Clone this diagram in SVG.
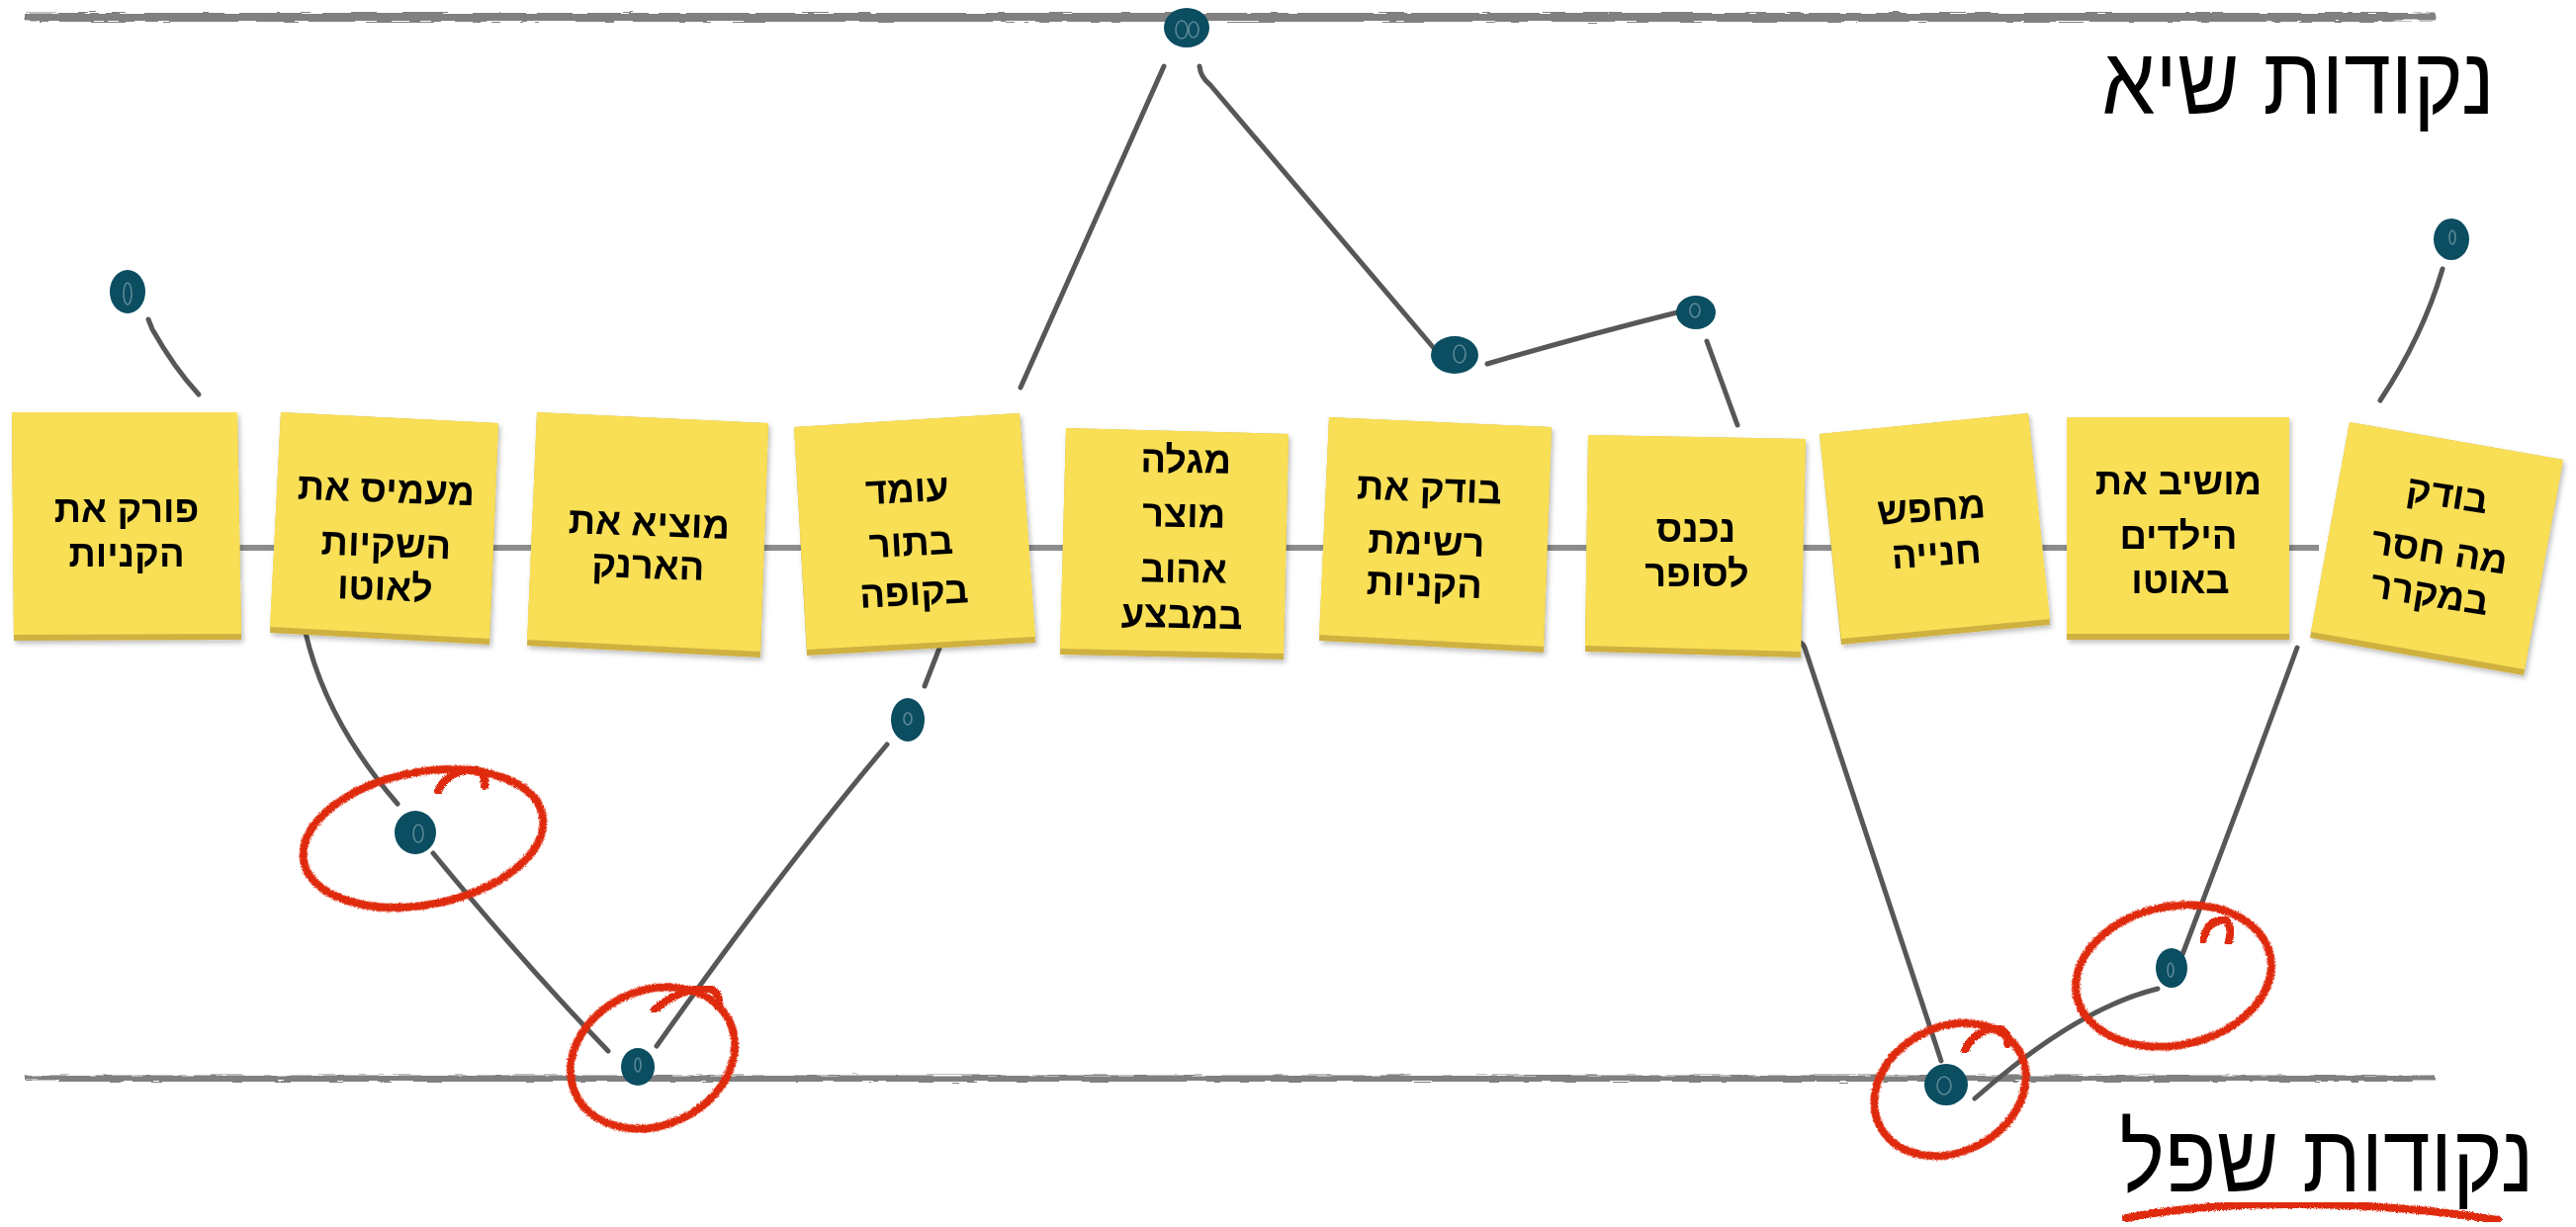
<svg xmlns="http://www.w3.org/2000/svg" width="2605" height="1241" viewBox="0 0 2605 1241">
<style>
.note{fill:#f8df57;}
.noteb{fill:#cfb141;}
.nt{font-family:"Liberation Sans","DejaVu Sans",sans-serif;font-weight:bold;font-size:38px;fill:#000;text-anchor:middle;}
.title{font-family:"Liberation Sans","DejaVu Sans",sans-serif;font-weight:normal;font-size:86px;fill:#000;text-anchor:middle;}
.con{fill:none;stroke:#575757;stroke-width:5;stroke-linecap:round;stroke-linejoin:round;}
.dot{fill:#0b4d61;}
.dotl{fill:none;stroke:#6f97a3;stroke-width:1.6;opacity:.8;}
.red{fill:none;stroke:#df2b0f;stroke-width:8;stroke-linecap:round;filter:url(#rough);}
.hl{fill:none;stroke:#808080;stroke-linecap:butt;}
</style>
<defs>
<filter id="rough" x="-10%" y="-10%" width="120%" height="120%">
<feTurbulence type="fractalNoise" baseFrequency="0.9" numOctaves="2" seed="3" result="n"/>
<feDisplacementMap in="SourceGraphic" in2="n" scale="4" xChannelSelector="R" yChannelSelector="G"/>
</filter>
<filter id="rough2" filterUnits="userSpaceOnUse" x="0" y="0" width="2605" height="1241">
<feTurbulence type="fractalNoise" baseFrequency="0.04 0.8" numOctaves="2" seed="7" result="n"/>
<feDisplacementMap in="SourceGraphic" in2="n" scale="5" xChannelSelector="R" yChannelSelector="G"/>
</filter>
<filter id="shadow" x="-5%" y="-5%" width="115%" height="115%">
<feDropShadow dx="2" dy="3" stdDeviation="2.5" flood-color="#000" flood-opacity="0.25"/>
</filter>
</defs>
<rect width="2605" height="1241" fill="#fff"/>

<g id="axes">
<g filter="url(#rough2)">
<line class="hl" x1="25" y1="17" x2="2463" y2="17" stroke-width="7"/>
<line class="hl" x1="60" y1="14" x2="2440" y2="14" stroke-width="2" stroke="#9a9a9a"/>
<line class="hl" x1="40" y1="21" x2="2420" y2="21" stroke-width="2" stroke="#9a9a9a"/>
<line class="hl" x1="25" y1="1090" x2="2462" y2="1090" stroke-width="5"/>
<line class="hl" x1="60" y1="1093" x2="2440" y2="1093" stroke-width="2" stroke="#a0a0a0"/>
</g>
<line x1="240" y1="554" x2="2345" y2="554" stroke="#8c8c8c" stroke-width="6"/>
</g>

<g id="titles">
<text class="title" transform="translate(2324 115) scale(1 1.12)">נקודות שיא</text>
<text class="title" transform="translate(2353 1205) scale(1 1.12)">נקודות שפל</text>
<path class="red" d="M2150,1232 C2250,1212 2400,1214 2526,1234" stroke-width="10"/>
</g>

<g id="connectors">
<path class="con" d="M150,323 L154,333 Q176,372 201,399"/>
<path class="con" d="M1032,392 L1177,67"/>
<path class="con" d="M1213,67 Q1214,78 1224,86 L1455,358"/>
<path class="con" d="M1504,368 Q1600,340 1700,315" stroke-width="7"/>
<path class="con" d="M1726,345 L1757,430"/>
<path class="con" d="M2470,272 Q2450,340 2407,405"/>
<path class="con" d="M309,640 Q330,730 402,813"/>
<path class="con" d="M438,863 Q530,975 615,1063"/>
<path class="con" d="M664,1058 Q790,880 897,753"/>
<path class="con" d="M935,694 L954,645"/>
<path class="con" d="M1818,649 Q1823,650 1825,655 L1963,1073"/>
<path class="con" d="M1997,1111 Q2100,1020 2182,1000"/>
<path class="con" d="M2206,968 Q2270,800 2323,655"/>
</g>

<g id="note1" filter="url(#shadow)">
<polygon class="noteb" points="12,417 240,417 244,647 14,648"/>
<polygon class="note" points="12,417 240,417 244,641 14,642"/>
<text class="nt" x="128" y="528">פורק את</text>
<text class="nt" x="128" y="573">הקניות</text>
</g>
<g id="note2" filter="url(#shadow)">
<polygon class="noteb" points="284,417 504,428 495,652 273,640"/>
<polygon class="note" points="284,417 504,428 495,646 273,634"/>
<text class="nt" x="390" y="508" transform="rotate(2 390 508)">מעמיס את</text>
<text class="nt" x="390" y="563" transform="rotate(2 390 563)">השקיות</text>
<text class="nt" x="389" y="607" transform="rotate(2 389 607)">לאוטו</text>
</g>
<g id="note3" filter="url(#shadow)">
<polygon class="noteb" points="543,417 777,428 769,665 533,653"/>
<polygon class="note" points="543,417 777,428 769,659 533,647"/>
<text class="nt" x="656" y="542" transform="rotate(2 656 542)">מוציא את</text>
<text class="nt" x="655" y="585" transform="rotate(2 655 585)">הארנק</text>
</g>
<g id="note4" filter="url(#shadow)">
<polygon class="noteb" points="803,432 1031,418 1047,650 816,663"/>
<polygon class="note" points="803,432 1031,418 1047,644 816,657"/>
<text class="nt" x="918" y="508" transform="rotate(-3 918 508)">עומד</text>
<text class="nt" x="922" y="562" transform="rotate(-3 922 562)">בתור</text>
<text class="nt" x="925" y="612" transform="rotate(-3 925 612)">בקופה</text>
</g>
<g id="note5" filter="url(#shadow)">
<polygon class="noteb" points="1078,433 1303,439 1298,667 1072,662"/>
<polygon class="note" points="1078,433 1303,439 1298,661 1072,656"/>
<text class="nt" x="1199" y="478" transform="rotate(1 1199 478)">מגלה</text>
<text class="nt" x="1197" y="533" transform="rotate(1 1197 533)">מוצר</text>
<text class="nt" x="1197" y="589" transform="rotate(1 1197 589)">אהוב</text>
<text class="nt" x="1195" y="635" transform="rotate(1 1195 635)">במבצע</text>
</g>
<g id="note6" filter="url(#shadow)">
<polygon class="noteb" points="1344,422 1569,432 1561,660 1334,648"/>
<polygon class="note" points="1344,422 1569,432 1561,654 1334,642"/>
<text class="nt" x="1445" y="507" transform="rotate(2 1445 507)">בודק את</text>
<text class="nt" x="1442" y="561" transform="rotate(2 1442 561)">רשימת</text>
<text class="nt" x="1440" y="603" transform="rotate(2 1440 603)">הקניות</text>
</g>
<g id="note7" filter="url(#shadow)">
<polygon class="noteb" points="1606,440 1826,444 1821,665 1603,659"/>
<polygon class="note" points="1606,440 1826,444 1821,659 1603,653"/>
<text class="nt" x="1715" y="548">נכנס</text>
<text class="nt" x="1716" y="593">לסופר</text>
</g>
<g id="note8" filter="url(#shadow)">
<polygon class="noteb" points="1840,439 2051,418 2073,632 1862,652"/>
<polygon class="note" points="1840,439 2051,418 2073,626 1862,646"/>
<text class="nt" x="1954" y="527" transform="rotate(-4 1954 527)">מחפש</text>
<text class="nt" x="1959" y="572" transform="rotate(-4 1959 572)">חנייה</text>
</g>
<g id="note9" filter="url(#shadow)">
<polygon class="noteb" points="2090,422 2315,422 2315,647 2090,647"/>
<polygon class="note" points="2090,422 2315,422 2315,641 2090,641"/>
<text class="nt" x="2203" y="500">מושיב את</text>
<text class="nt" x="2203" y="555">הילדים</text>
<text class="nt" x="2205" y="600">באוטו</text>
</g>
<g id="note10" filter="url(#shadow)">
<polygon class="noteb" points="2376,427 2592,465 2552,683 2336,645"/>
<polygon class="note" points="2376,427 2592,465 2553,677 2337,639"/>
<text class="nt" x="2473" y="513" transform="rotate(9 2473 513)">בודק</text>
<text class="nt" x="2465" y="570" transform="rotate(9 2465 570)">מה חסר</text>
<text class="nt" x="2455" y="613" transform="rotate(9 2455 613)">במקרר</text>
</g>

<g id="dots">
<g id="dotA"><ellipse class="dot" cx="129" cy="295" rx="18" ry="22"/><ellipse class="dotl" cx="129" cy="297" rx="4" ry="11"/></g>
<g id="dotPeak"><ellipse class="dot" cx="1200" cy="28" rx="23" ry="20"/><ellipse class="dotl" cx="1195" cy="30" rx="6" ry="9"/><ellipse class="dotl" cx="1207" cy="30" rx="5" ry="8"/></g>
<g id="dotB"><ellipse class="dot" cx="1471" cy="359" rx="24" ry="19"/><ellipse class="dotl" cx="1476" cy="358" rx="6" ry="9"/></g>
<g id="dotC"><ellipse class="dot" cx="1715" cy="316" rx="20" ry="17"/><ellipse class="dotl" cx="1714" cy="314" rx="5" ry="7"/></g>
<g id="dotD"><ellipse class="dot" cx="2479" cy="242" rx="18" ry="21"/><ellipse class="dotl" cx="2480" cy="240" rx="3" ry="7"/></g>
<g id="dotE"><ellipse class="dot" cx="420" cy="842" rx="21" ry="22"/><ellipse class="dotl" cx="423" cy="843" rx="5" ry="9"/></g>
<g id="dotF"><ellipse class="dot" cx="645" cy="1079" rx="17" ry="19"/><ellipse class="dotl" cx="645" cy="1077" rx="3" ry="7"/></g>
<g id="dotG"><ellipse class="dot" cx="918" cy="728" rx="17" ry="22"/><ellipse class="dotl" cx="918" cy="727" rx="4" ry="6"/></g>
<g id="dotH"><ellipse class="dot" cx="1968" cy="1097" rx="22" ry="21"/><ellipse class="dotl" cx="1966" cy="1098" rx="7" ry="9"/></g>
<g id="dotI"><ellipse class="dot" cx="2196" cy="979" rx="16" ry="20"/><ellipse class="dotl" cx="2195" cy="981" rx="3" ry="7"/></g>
</g>

<g id="highlights">
<ellipse class="red" cx="428" cy="848" rx="123" ry="67" transform="rotate(-11 428 848)"/>
<path class="red" d="M443,800 Q452,780 478,778 Q492,780 490,795"/>
<ellipse class="red" cx="660" cy="1070" rx="86" ry="68" transform="rotate(-25 660 1070)"/>
<path class="red" d="M662,1021 Q690,998 718,1000 Q730,1006 726,1018"/>
<ellipse class="red" cx="1972" cy="1102" rx="80" ry="63" transform="rotate(-28 1972 1102)"/>
<path class="red" d="M1987,1062 Q1998,1040 2022,1040 Q2032,1045 2030,1056"/>
<ellipse class="red" cx="2198" cy="987" rx="100" ry="70" transform="rotate(-12 2198 987)"/>
<path class="red" d="M2228,950 Q2233,930 2250,930 Q2258,936 2254,952"/>
</g>
</svg>
